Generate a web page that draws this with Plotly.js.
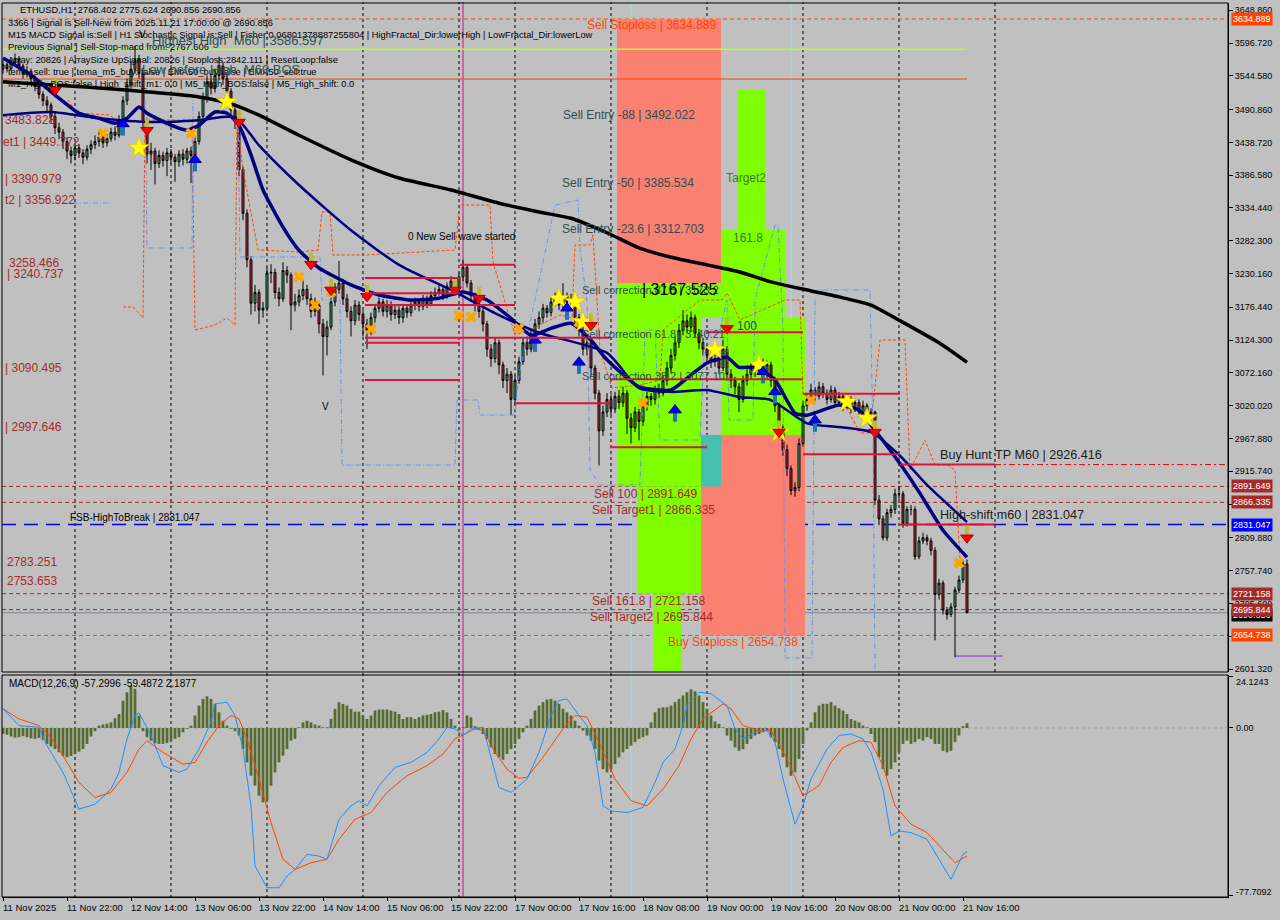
<!DOCTYPE html>
<html>
<head>
<meta charset="utf-8">
<script src="https://cdn.plot.ly/plotly-3.0.1.min.js"></script>
<style>
  html, body { margin: 0; padding: 0; background: #c0c0c0; }
  #chart { width: 1280px; height: 920px; }
</style>
</head>
<body>
<div id="chart"></div>
<script>
// ETHUSD H1 — hourly candles, bar 0 = 11 Nov 2025 06:00, bar 241 = 21 Nov 17:00
const firstOpen = 3555;
const closePrice = [
  3562,3556,3565,3572,3560,3548,3552,3540,3528,3515,3505,
  3498,3480,3462,3455,
  3440,3425,3418,3430,3422,3415,3428,3435,
  3440,3448,3438,3445,3455,3450,
  3475,3505,3530,3555,3570,3548,
  3470,3420,
  3425,3405,3418,3410,3422,3415,3408,3420,3412,3425,3418,
  3440,3480,3510,3535,3525,
  3545,3560,3540,3520,3490,3475,
  3395,
  3326,3252,3183,3200,3172,3175,3231,3232,3200,3190,3235,3228,3180,3185,3195,
  3205,3190,3170,3180,3150,3130,3145,3185,3205,3215,3190,3170,3155,3180,3165,3150,
  3140,3160,3175,3185,3170,3180,3165,3172,3160,3175,3168,3180,3185,3178,3190,3182,3195,3200,3205,3195,3210,3218,3205,
  3225,3240,3215,3195,3180,3170,3150,3110,3095,3120,3085,3060,3070,3030,
  3060,3090,3120,3110,3135,3150,3160,3175,3168,3185,3190,3180,3195,3185,3190,
  3160,3140,3110,3120,3080,3040,2980,3010,3030,3015,3035,3025,3040,3000,2985,3010,2995,3020,3035,3030,3045,3040,
  3060,3080,3100,3120,3140,3155,3145,3160,3135,3120,3110,3100,3090,3095,3080,
  3110,3070,3060,3050,3030,3060,3070,3080,3075,3090,3070,3085,3060,3020,2985,2950,2920,2885,2890,2960,
  3020,3030,3045,3035,3050,3040,3030,3045,3025,3035,3020,3030,3015,3025,3010,3020,3005,3010,
  2870,2840,2810,2850,2855,2880,2880,2833,2855,2855,2780,2805,2810,2805,2790,2720,2738,2695,2688,2700,2727,2743,2768.402,2690.856
];
const highPrice = [
  3570,3568,3574,3580,3576,3564,3560,3556,3545,3532,3520,
  3512,3502,3486,3470,
  3460,3446,3432,3438,3436,3428,3434,3442,
  3450,3455,3452,3452,3462,3464,
  3482,3512,3540,3568,3592,3578,
  3552,3478,
  3438,3430,3426,3424,3430,3428,3420,3426,3428,3430,3432,
  3448,3488,3518,3545,3548,
  3556,3575,3566,3548,3525,3500,
  3480,
  3400,3332,3258,3212,3205,3185,3240,3245,3238,3208,3248,3242,3232,3198,3205,
  3220,3212,3198,3192,3185,3158,3155,3192,3215,3250,3222,3198,3178,3188,3186,3172,
  3158,3168,3182,3192,3190,3188,3186,3180,3178,3182,3180,3186,3192,3190,3196,3195,3202,3208,3214,3210,3216,3226,3222,
  3232,3252,3244,3220,3200,3186,3175,3155,3118,3128,3125,3090,3080,3075,
  3068,3098,3128,3130,3142,3158,3170,3182,3180,3192,3200,3195,3215,3200,3198,
  3194,3166,3145,3130,3125,3085,3045,3020,3040,3038,3042,3045,3050,3045,3008,3018,3015,3028,3042,3040,3052,3055,
  3068,3090,3110,3130,3150,3172,3165,3170,3165,3142,3128,3116,3108,3102,3100,
  3125,3115,3078,3066,3056,3068,3078,3088,3086,3098,3095,3092,3090,3066,3025,2990,2958,2925,2898,2968,
  3028,3040,3055,3050,3058,3056,3046,3052,3050,3042,3040,3038,3035,3032,3030,3028,3024,3016,
  3012,2878,2845,2856,2862,2888,2892,2884,2860,2862,2860,2812,2818,2815,2810,2795,2745,2742,2700,2706,2732,2750,2774,2775.624
];
const lowPrice = [
  3548,3550,3552,3560,3554,3540,3542,3532,3520,3508,3496,
  3488,3470,3452,3444,
  3428,3412,3405,3410,3414,3404,3410,3420,
  3428,3432,3430,3432,3440,3442,
  3446,3470,3498,3524,3548,3540,
  3460,3405,
  3395,3372,3398,3400,3385,3405,3376,3400,3402,3405,3374,
  3410,3435,3474,3502,3515,
  3518,3538,3530,3510,3480,3460,
  3385,
  3315,3240,3165,3170,3150,3160,3170,3215,3190,3178,3185,3215,3140,3170,3178,
  3188,3180,3160,3162,3135,3068,3100,3140,3178,3198,3180,3160,3130,3148,3155,3130,
  3110,3132,3152,3168,3162,3160,3155,3158,3150,3152,3160,3162,3172,3170,3172,3175,3178,3188,3195,3188,3190,3204,3198,
  3200,3218,3208,3185,3170,3160,3138,3098,3082,3088,3070,3048,3040,3005,
  3022,3055,3085,3100,3105,3128,3142,3152,3160,3162,3178,3172,3175,3175,3178,
  3150,3130,3100,3100,3068,3030,2925,2972,3002,3005,3008,3015,3018,2975,2960,2978,2965,2988,3012,3020,3022,3032,
  3035,3052,3072,3092,3112,3132,3135,3138,3128,3110,3100,3090,3080,3082,3070,
  3075,3060,3048,3038,3010,3025,3052,3062,3066,3070,3062,3064,3050,3010,2975,2940,2908,2878,2875,2884,
  2955,3012,3025,3028,3030,3032,3022,3025,3018,3020,3012,3015,3008,3010,3002,3005,2998,2998,
  2862,2830,2806,2805,2842,2848,2872,2826,2828,2846,2775,2776,2800,2798,2782,2647,2712,2688,2680,2684,2620,2722,2738,2690.856
];

// time axis labels (bar index of each label)
const timeLabelBars = [0,16,32,48,64,80,96,112,128,144,160,176,192,208,224,240];
const timeLabels = ['11 Nov 2025','11 Nov 22:00','12 Nov 14:00','13 Nov 06:00','13 Nov 22:00','14 Nov 14:00',
  '15 Nov 06:00','15 Nov 22:00','17 Nov 00:00','17 Nov 16:00','18 Nov 08:00','19 Nov 00:00',
  '19 Nov 16:00','20 Nov 08:00','21 Nov 00:00','21 Nov 16:00'];
// bars that open a new day (vertical separators)
const dayStartBars = [18,42,66,90,114,128,152,176,200,224];
const futureDayBars = [248];

// price scale on the right
const priceTicks = [3648.860,3596.720,3544.580,3490.860,3438.720,3386.580,3334.440,3282.300,3230.160,
  3176.440,3124.300,3072.160,3020.020,2967.880,2915.740,2863.600,2809.880,2757.740,2705.600,2653.460,2601.320];

// slow trend average (black)
const trendBars   = [0,24,49,57,64,74,87,99,112,124,134,142,151,159,167,176,184,192,201,209,217,224,234,241];
const trendPrices = [3535,3525,3511,3500,3482,3450,3411,3382,3363,3342,3328,3318,3295,3271,3256,3244,3233,3217,3204,3193,3180,3156,3120,3089];

// fast average (navy, thick)
const fastBars   = [0,7,13,19,24,28,31,34,36,42,46,49,53,56,59,62,65,70,74,79,87,94,102,109,115,121,127,132,137,142,147,151,159,167,172,176,181,184,188,193,198,201,209,214,218,224,229,235,241];
const fastPrices = [3573,3546,3514,3485,3477,3469,3477,3495,3485,3466,3458,3466,3487,3485,3466,3419,3363,3304,3267,3239,3212,3196,3188,3191,3201,3188,3159,3132,3143,3151,3124,3093,3050,3045,3069,3088,3097,3081,3081,3061,3008,3005,3021,3013,2981,2930,2883,2822,2779];

// medium average (navy)
const midBars   = [0,12,24,37,49,58,64,74,87,99,112,124,134,151,159,167,176,184,192,201,209,217,224,231,241];
const midPrices = [3482,3487,3477,3471,3474,3479,3434,3371,3299,3244,3204,3164,3136,3104,3048,3042,3045,3034,3029,2992,2986,2978,2942,2894,2835];

// upper channel (orange dashed)
const upperBandBars = [16.25,18.5,26.75,28,null,30,32.5,35,35.5,47.25,48,53,56,58,58.5,60,63.75,74.25,78.75,79.75,81.75,82.5,90.5,113,114.25,121.75,122.5,128,131.75,139.25,142.25,143,146.75,147.5,149.25,152.25,159.25,164.25,165,174.25,179.75,181,184.25,195.5,199.25,200,209.25,214.25,216.75,219.25,225.5,226.75,230.5,233,236.25,238,239.25];
const upperBandPrices = [3506.1,3485.4,3482.3,3474.3,null,3177,3177,3159.5,3474.3,3474.3,3140.4,3148.3,3159.5,3148.3,3474.3,3394.8,3267.6,3264.4,3267.6,3328.0,3328.0,3259.6,3259.6,3267.6,3339.1,3339.1,3248.5,3132.4,3140.4,3164.3,3159.5,3275.5,3275.5,3291.4,3108.6,3048.2,3052.9,3060.9,3140.4,3188.1,3188.1,3199.2,3156.3,3188.1,3188.1,3037.1,3037.1,2976.6,2976.6,3124.5,3124.5,2917.8,2965.5,2925.7,2925.7,2917.8,2774.7];

// lower channel (blue dash-dot)
const lowerBandBars = [12.5,27.25,null,35.5,36,47.25,47.5,null,58.75,59.25,74.25,79.25,79.75,84.25,84.75,113,113.5,118.75,119.25,128,128.75,138,143.75,144.25,146,146.75,149.25,159.25,160.5,163,164.25,174.25,175.5,179.25,181,181.5,187.5,188,193,193.75,195,195.5,202.25,203,204.25,216.75,217.5,218,224.25];
const lowerBandPrices = [3342.3,3342.3,null,3506.1,3270.8,3270.8,3506.1,null,3479.1,3256.5,3256.5,3256.5,3188.1,3188.1,2925.7,2925.7,3029.1,3029.1,3005.2,3005.2,3060.9,3339.1,3347.1,3267.6,3188.1,2917.8,2894.0,2894.0,3140.4,3140.4,2965.5,2965.5,3140.4,3140.4,3188.1,2997.3,2997.3,3188.1,3307.3,3307.3,3140.4,2618.9,2618.9,3188.1,3204.0,3204.0,2981.4,2596.6,2596.6];

// signal markers
const sellArrowBars   = [13,36,59,77,82,91,113,119,147,181,194,218,241];
const sellArrowPrices = [3522,3458,3471,3245,3204,3194,3204,3191,3148,3143,2978,2978,2810];
const buyArrowBars    = [30,48,133,141,144,168,190,193,203];
const buyArrowPrices  = [3468,3411,3124,3175,3089,3013,3074,3042,2997];
const starBars   = [34,56,139,143,145,178,189,194,211,216];
const starPrices = [3430,3503,3190,3185,3153,3109,3085,2978,3026,3000];
const crossBars   = [25,47,74,78,82,92,114,117,129,144,160,202,239];
const crossPrices = [3453,3453,3225,3180,3201,3142,3163,3161,3143,3153,3024,3029,2770];

// MACD(12,26,9)
const macdBars   = [0,4,9,11,15,19,23,27,29,31,33,34,37,40,44,46,49,52,53,56,58,60,62,63,66,69,71,73,76,79,81,84,87,89,91,94,98,102,106,109,111,113,115,117,120,121,123,124,127,131,134,137,139,141,144,146,148,150,152,156,160,163,165,168,170,171,174,177,181,183,185,188,191,193,195,198,200,202,206,209,212,215,217,220,222,224,227,231,234,237,240,241];
const macdValues = [8.9,1.1,0.3,-8.2,-20.6,-37.7,-35.4,-28.4,-20.6,-5.1,5.8,7.0,-3.5,-17.5,-20.6,-19.1,-9.8,2.7,11.2,12.0,5.8,-9.8,-36.2,-64.1,-74.2,-74.2,-68.8,-65.7,-58.7,-59.5,-61.0,-42.4,-36.2,-33.8,-36.2,-26.8,-18.3,-16.0,-11.3,-5.1,0.3,-0.4,-3.5,-0.4,0.3,-6.6,-20.6,-27.6,-29.9,-23.7,-11.3,5.8,12.7,13.5,5.8,1.1,-11.3,-36.2,-38.5,-39.3,-36.9,-25.3,-16.0,-9.8,1.1,10.4,16.6,15.9,10.4,-0.4,-5.1,-2.0,-1.2,-6.6,-23.7,-44.7,-36.2,-23.7,-9.8,-3.5,-2.8,-5.1,-11.3,-28.4,-50.2,-47.8,-48.6,-51.7,-61.0,-70.3,-58.7,-57.2996];
const signalBars   = [0,4,9,12,15,19,23,27,31,34,36,40,45,48,51,54,57,59,61,64,67,70,73,77,81,84,88,92,96,101,106,110,113,118,120,123,126,129,131,135,140,143,146,149,153,157,161,165,169,172,175,180,182,185,189,192,196,200,204,207,210,214,217,220,223,227,231,234,238,241];
const signalValues = [8.9,4.2,1.1,-4.3,-12.9,-25.3,-32.3,-29.9,-20.6,-9.8,-5.9,-11.3,-16.8,-16.0,-6.6,1.1,5.8,4.2,-5.1,-23.7,-43.9,-61.0,-65.7,-62.6,-61.0,-51.7,-42.4,-39.3,-29.9,-22.2,-17.5,-12.1,-5.1,-0.4,-1.2,-11.3,-19.1,-23.4,-22.9,-13.6,-0.4,5.8,5.0,-6.6,-23.7,-33.8,-36.2,-28.4,-17.5,-5.1,4.2,11.2,8.9,1.1,-1.2,-1.2,-14.4,-31.5,-26.8,-16.0,-9.0,-5.9,-6.6,-17.5,-36.2,-44.7,-48.6,-54.8,-62.6,-59.4872];
const macdHistogram = [
  -2.8,-3.2,-4.0,-4.5,-4.3,-3.8,-4.3,-4.8,-5.1,-4.6,-5.5,
  -7.4,-8.6,-9.8,-11.3,-12.9,-13.6,-13.0,-12.1,-11.0,-9.8,-7.4,-4.0,-1.5,
  1.1,1.6,2.0,2.6,4.5,6.5,12.7,16.6,19.7,18.2,5.8,
  -1.5,-4.3,-5.9,-7.1,-7.4,-7.4,-7.0,-5.9,-5.0,-4.3,-2.0,-0.4,
  1.1,5.8,10.4,13.5,14.7,13.5,11.2,7.3,3.4,1.1,-0.4,
  -1.5,-3.5,-9.8,-16.0,-22.2,-26.8,-31.5,-34.6,-33.8,-26.8,-20.6,-16.0,-12.9,-9.8,-5.9,-5.1,
  0.3,2.6,3.4,2.6,1.6,1.1,0.3,0.3,
  4.2,8.9,12.0,11.2,10.4,8.9,7.6,7.6,5.8,4.2,5.8,8.1,8.6,8.6,8.6,8.1,7.6,6.5,
  4.2,5.0,5.0,4.2,5.0,5.8,6.1,6.5,7.3,7.6,8.3,7.3,4.2,1.1,
  -1.2,0.3,5.8,5.0,0.8,-0.4,
  -2.8,-5.1,-9.0,-12.1,-13.6,-14.7,-12.1,-9.8,-7.4,-5.1,-2.0,
  1.1,4.2,8.1,10.4,12.0,13.2,13.5,12.7,11.2,8.9,7.3,5.8,3.4,1.1,
  -1.2,-3.5,-5.9,-9.8,-15.2,-19.1,-20.6,-19.1,-16.8,-13.6,-11.3,-9.8,-8.2,-6.6,-5.1,-4.3,-3.5,
  2.6,7.3,9.2,9.6,9.6,10.4,12.0,13.5,15.1,16.6,17.9,17.0,15.1,12.0,8.9,5.8,3.0,1.9,
  0.3,-3.5,-5.9,-9.0,-10.6,-9.8,-7.4,-5.1,-3.5,-2.8,-2.0,-1.2,
  -4.3,-6.6,-9.8,-13.6,-18.3,-22.2,-20.6,-14.4,-7.4,-1.2,
  2.6,7.3,10.4,11.2,11.2,12.0,10.4,9.2,8.1,6.5,4.2,3.4,2.6,1.1,0.3,
  -2.8,-6.6,-13.6,-19.1,-22.2,-19.1,-16.0,-11.3,-7.4,
  -5.9,-7.4,-6.6,-5.1,-5.9,-4.3,-5.1,-7.4,-7.4,-10.6,-11.3,-10.6,-6.6,-3.5,
  0.8,2.1877
];

// trade levels
const sellStoploss = 3634.889, highestHighM60 = 3586.597, lowBeforeHighM60 = 3539.4;
const buyHuntTP = 2926.416, sell100 = 2891.649, sellTarget1 = 2866.335, highShiftM60 = 2831.047;
const sell1618 = 2721.158, sellTarget2 = 2695.844, bidPrice = 2690.856, buyStoploss = 2654.738;

// zone boxes: [fromBar, toBar, lowPrice, highPrice]
const salmonZones = [[153.5,179.5,3215.1,3634.889],[174.5,200.5,2654.738,2973.4]];
const limeZones = [[153.5,179.5,3159.5,3215.1],[153.5,174.5,2891.649,3159.5],[158.5,174.5,2721.158,2891.649],
  [162.5,169.5,2560,2721.158],[183.5,190.5,3299.4,3522.0],[179.5,195.5,3159.5,3299.4],[179.5,200.5,2973.4,3159.5]];
const tealZones = [[174.5,179.5,2891.649,2973.4]];

// correction / structure segments: [fromBar, toBar, price]
const structureSegments = [[90.5,114.25,3223],[90.5,114.25,3199],[90.5,128,3180],[114.25,128,3244],[90.5,151.75,3128],
  [90.5,114.25,3120],[90.5,114.25,3061],[128,151.75,3024],[151.75,176,2954],[176,200,3137],[151.75,200,3062],
  [200,224.25,3039],[200,224.25,2943],[224.25,248,2926.416],[224.25,248,2831.047]];

// marked vertical bars
const magentaBars = [115];
const lightBlueBars = [157,197];

// ---------- layout geometry ----------
const W = 1280, H = 920;
const M = {l: 2, r: 52, t: 2, b: 22};
const plotW = W - M.l - M.r, plotH = H - M.t - M.b;
const rowToPaper = row => (H - M.b - row) / plotH;
const colToPaper = col => (col - M.l) / plotW;
const mainDomain = [rowToPaper(672), rowToPaper(3)];
const macdDomain = [rowToPaper(897), rowToPaper(675)];
const priceRange = [2596.61, 3660.32];
const pricePerPixel = (priceRange[1] - priceRange[0]) / (669);

const bars = closePrice.map((_, k) => k);
// each hourly candle opens at the previous close
const openPrice = closePrice.map((c, k) => (k === 0 ? firstOpen : closePrice[k - 1]));

const traces = [];

traces.push({
  type: 'scatter', mode: 'lines', x: upperBandBars, y: upperBandPrices, connectgaps: false,
  line: {color: '#ff4500', width: 1, dash: '3px,2px'}, hoverinfo: 'skip'
});
traces.push({
  type: 'scatter', mode: 'lines', x: lowerBandBars, y: lowerBandPrices, connectgaps: false,
  line: {color: '#6495ed', width: 1, dash: '5px,2px,1px,2px'}, hoverinfo: 'skip'
});

traces.push({
  type: 'candlestick', x: bars, open: openPrice, high: highPrice, low: lowPrice, close: closePrice,
  increasing: {line: {color: '#000000', width: 1}, fillcolor: '#3cb371'},
  decreasing: {line: {color: '#000000', width: 1}, fillcolor: '#c8283c'},
  whiskerwidth: 0, hoverinfo: 'skip', xaxis: 'x', yaxis: 'y'
});

traces.push({type: 'scatter', mode: 'lines', x: trendBars, y: trendPrices, line: {color: '#000000', width: 3.5, shape: 'spline', smoothing: 0.6}, hoverinfo: 'skip'});
traces.push({type: 'scatter', mode: 'lines', x: midBars, y: midPrices, line: {color: '#000080', width: 2.5, shape: 'spline', smoothing: 0.6}, hoverinfo: 'skip'});
traces.push({type: 'scatter', mode: 'lines', x: fastBars, y: fastPrices, line: {color: '#000080', width: 3.5, shape: 'spline', smoothing: 0.5}, hoverinfo: 'skip'});

traces.push({type: 'scatter', mode: 'markers', x: crossBars, y: crossPrices,
  marker: {symbol: 'x', size: 10, color: '#ffa500', line: {width: 0}}, hoverinfo: 'skip'});
traces.push({type: 'scatter', mode: 'markers', x: starBars, y: starPrices,
  marker: {symbol: 'star', size: 16, color: '#ffff00', line: {width: 0.5, color: '#e0b000'}}, hoverinfo: 'skip'});

// arrows: a head plus a short shaft behind it
const shaftShift = 6 * pricePerPixel;
traces.push({type: 'scatter', mode: 'markers', x: sellArrowBars, y: sellArrowPrices.map(p => p + shaftShift),
  marker: {symbol: 'line-ns-open', size: 8, line: {width: 4, color: '#ff0000'}}, hoverinfo: 'skip'});
traces.push({type: 'scatter', mode: 'markers', x: sellArrowBars, y: sellArrowPrices,
  marker: {symbol: 'triangle-down', size: 11, color: '#ff0000', line: {width: 1, color: '#b00000'}}, hoverinfo: 'skip'});
traces.push({type: 'scatter', mode: 'markers', x: buyArrowBars, y: buyArrowPrices.map(p => p - shaftShift),
  marker: {symbol: 'line-ns-open', size: 8, line: {width: 4, color: '#0000ff'}}, hoverinfo: 'skip'});
traces.push({type: 'scatter', mode: 'markers', x: buyArrowBars, y: buyArrowPrices,
  marker: {symbol: 'triangle-up', size: 11, color: '#0000ff', line: {width: 1, color: '#00008b'}}, hoverinfo: 'skip'});

// MACD pane
traces.push({type: 'bar', x: bars, y: macdHistogram, xaxis: 'x', yaxis: 'y2', width: 0.7,
  marker: {color: '#556b2f', line: {width: 0}}, hoverinfo: 'skip'});
traces.push({type: 'scatter', mode: 'lines', x: signalBars, y: signalValues, xaxis: 'x', yaxis: 'y2',
  line: {color: '#ff4500', width: 1}, hoverinfo: 'skip'});
traces.push({type: 'scatter', mode: 'lines', x: macdBars, y: macdValues, xaxis: 'x', yaxis: 'y2',
  line: {color: '#1e90ff', width: 1}, hoverinfo: 'skip'});

// ---------- shapes ----------
const shapes = [];
const hLine = (price, color, dash, width, x0, x1, layer) => ({
  type: 'line', xref: x0 === undefined ? 'paper' : 'x', yref: 'y',
  x0: x0 === undefined ? 0 : x0, x1: x1 === undefined ? 1 : x1, y0: price, y1: price,
  line: {color, width: width || 1, dash: dash || 'solid'}, layer: layer || 'below'
});

dayStartBars.forEach(b => shapes.push({type: 'line', xref: 'x', yref: 'paper', x0: b, x1: b, y0: 0, y1: 1,
  line: {color: '#000', width: 1, dash: '3px,3px'}, layer: 'below'}));
futureDayBars.forEach(b => shapes.push({type: 'line', xref: 'x', yref: 'paper', x0: b, x1: b, y0: mainDomain[0], y1: mainDomain[1],
  line: {color: '#000', width: 1, dash: '3px,3px'}, layer: 'below'}));

salmonZones.forEach(z => shapes.push({type: 'rect', xref: 'x', yref: 'y', x0: z[0], x1: z[1], y0: z[2], y1: z[3],
  fillcolor: '#fa8072', line: {width: 0}, layer: 'below'}));
limeZones.forEach(z => shapes.push({type: 'rect', xref: 'x', yref: 'y', x0: z[0], x1: z[1], y0: z[2], y1: z[3],
  fillcolor: '#7fff00', line: {width: 0}, layer: 'below'}));
tealZones.forEach(z => shapes.push({type: 'rect', xref: 'x', yref: 'y', x0: z[0], x1: z[1], y0: z[2], y1: z[3],
  fillcolor: '#45bfb0', line: {width: 0}, layer: 'below'}));

magentaBars.forEach(b => shapes.push({type: 'line', xref: 'x', yref: 'paper', x0: b, x1: b, y0: 0, y1: 1,
  line: {color: '#c71585', width: 1}, layer: 'below'}));
lightBlueBars.forEach(b => shapes.push({type: 'line', xref: 'x', yref: 'paper', x0: b, x1: b, y0: 0, y1: 1,
  line: {color: '#add8e6', width: 1}, layer: 'below'}));

shapes.push(hLine(sellStoploss, '#ff4500', '4px,3px'));
shapes.push(hLine(highestHighM60, '#adff2f', 'solid', 1.5, -0.25, 241));
shapes.push(hLine(lowBeforeHighM60, '#ff4500', 'solid', 1, -0.25, 241));
shapes.push(hLine(buyHuntTP, '#ff0000', '6px,3px,2px,3px', 1, 248, 306.25));
shapes.push(hLine(sell100, '#a52a2a', '4px,3px'));
shapes.push(hLine(sellTarget1, '#a52a2a', '4px,3px'));
shapes.push(hLine(highShiftM60, '#0000ff', '14px,8px', 1.5));
shapes.push(hLine(sell1618, '#a52a2a', '4px,3px'));
shapes.push(hLine(sellTarget2, '#a52a2a', '4px,3px'));
shapes.push(hLine(bidPrice, '#778899', 'solid', 1));
shapes.push(hLine(buyStoploss, '#ff4500', '4px,3px'));
shapes.push(hLine(2622, '#8a2be2', 'solid', 1, 238, 250));
structureSegments.forEach(s => shapes.push(hLine(s[2], '#dc143c', 'solid', 2, s[0], s[1], 'above')));

// pane frames
shapes.push({type: 'rect', xref: 'paper', yref: 'paper', x0: 0, x1: 1, y0: mainDomain[0], y1: mainDomain[1],
  line: {color: '#000', width: 1}, fillcolor: 'rgba(0,0,0,0)', layer: 'above'});
shapes.push({type: 'rect', xref: 'paper', yref: 'paper', x0: 0, x1: 1, y0: macdDomain[0], y1: macdDomain[1],
  line: {color: '#000', width: 1}, fillcolor: 'rgba(0,0,0,0)', layer: 'above'});
shapes.push({type: 'line', xref: 'paper', yref: 'y2', x0: 0, x1: 1, y0: 0, y1: 0, line: {color: '#808080', width: 0.5, dash: 'dot'}, layer: 'below'});

// ---------- annotations ----------
const annotations = [];
const FONT = 'Liberation Sans, Arial, sans-serif';
const pxNote = (col, row, text, size, color, extra) => annotations.push(Object.assign({
  xref: 'paper', yref: 'paper', x: colToPaper(col), y: rowToPaper(row), xanchor: 'left', yanchor: 'middle',
  text, showarrow: false, font: {family: FONT, size, color}
}, extra || {}));
const dataNote = (bar, price, text, size, color, extra) => annotations.push(Object.assign({
  xref: 'x', yref: 'y', x: bar, y: price, xanchor: 'left', yanchor: 'middle',
  text, showarrow: false, font: {family: FONT, size, color}
}, extra || {}));

// time labels
timeLabelBars.forEach((b, k) => annotations.push({
  xref: 'x', yref: 'paper', x: b, y: 0, xanchor: 'left', yanchor: 'top', xshift: -2, yshift: -2,
  text: timeLabels[k], showarrow: false, font: {family: FONT, size: 9.5, color: '#000'}
}));

// info block
const INFO = 9.3;
pxNote(18, 10, 'ETHUSD,H1  2768.402 2775.624 2690.856 2690.856', INFO, '#000');
pxNote(6, 23, '3366 | Signal is Sell-New from 2025.11.21 17:00:00 @ 2690.856', INFO, '#000');
pxNote(6, 35, 'M15 MACD Signal is:Sell | H1 Stochastic Signal is:Sell | Fisher:0.06801378887255804 | HighFractal_Dir:lowerHigh | LowFractal_Dir:lowerLow', INFO, '#000');
pxNote(6, 47, 'Previous Signal | Sell-Stop-macd from: 2767.606', INFO, '#000');
pxNote(6, 60, 'Array: 20826 | ArraySize UpSignal: 20826 | Stoploss:2842.111 | ResetLoop:false', INFO, '#000');
pxNote(6, 72, 'tema_sell: true | tema_m5_buy: false | EMA50_buy:false | EMA50_sell:true', INFO, '#000');
pxNote(6, 84, 'M1_High_BOS:false | High_shift_m1: 0.0 | M5_High_BOS:false | M5_High_shift: 0.0', INFO, '#000');
pxNote(150, 40, 'Highest High  M60 | 3586.597', 13, '#2f4f4f');
pxNote(140, 70, 'Low before High  M60 BOS', 13, '#2f4f4f');
pxNote(7, 683, 'MACD(12,26,9) -57.2996 -59.4872 2.1877', 10, '#000');

// level captions
dataNote(145.5, 3625.3, 'Sell Stoploss | 3634.889', 12, '#ff4500');
dataNote(139.5, 3482.2, 'Sell Entry -88 | 3492.022', 12, '#2f4f4f');
dataNote(139.25, 3374.1, 'Sell Entry -50 | 3385.534', 12, '#2f4f4f');
dataNote(139.25, 3301.0, 'Sell Entry -23.6 | 3312.703', 12, '#2f4f4f');
dataNote(100.75, 3288.3, '0 New Sell wave started', 10, '#000');
dataNote(180.25, 3382.1, 'Target2', 12, '#3a7a3a');
dataNote(182, 3286.7, '161.8', 12, '#3a7a3a');
dataNote(144.25, 3204, 'Sell correction 87.5 | 3173.2', 11, '#2f4f4f');
dataNote(159.25, 3204, '| 3167.525', 16, '#000');
dataNote(144.25, 3134, 'Sell correction 61.8 | 3140.21', 11, '#2f4f4f');
dataNote(144.25, 3067.3, 'Sell correction 38.2 | 3077.10', 11, '#2f4f4f');
dataNote(183, 3146.8, '100', 12, '#2f4f4f');
dataNote(147.25, 2879.6, 'Sell 100 | 2891.649', 12, '#a52a2a');
dataNote(146.75, 2854.2, 'Sell Target1 | 2866.335', 12, '#a52a2a');
dataNote(146.75, 2709.5, 'Sell 161.8 | 2721.158', 12, '#a52a2a');
dataNote(146.25, 2684.1, 'Sell Target2 | 2695.844', 12, '#a52a2a');
dataNote(165.75, 2644.3, 'Buy Stoploss | 2654.738', 12, '#ff4500');
dataNote(233.75, 2941.6, 'Buy Hunt TP M60 | 2926.416', 12.6, '#1a1a1a');
dataNote(233.75, 2846.2, 'High-shift m60 | 2831.047', 12.6, '#1a1a1a');
dataNote(16.25, 2841.5, 'FSB-HighToBreak | 2831.047', 10, '#000');
dataNote(79.25, 3018, 'V', 10, '#000');
dataNote(33.5, 3610, 'V', 10, '#000');

// captions of older levels running off the left edge
const leftCaptions = [['3483.828',0,3474,0],['et1 | 3449.772',-0.2,3439.3,-1],['| 3390.979',0,3380.5,0],['t2 | 3356.922',0,3347.1,0],
  ['3258.466',1,3247,0],['| 3240.737',0.5,3229.4,0],['| 3090.495',0,3080,0],['| 2997.646',0,2986,0],['2783.251',0.5,2771.5,0],['2753.653',0.5,2741.3,0]];
leftCaptions.forEach(c => dataNote(c[1], c[2], c[0], 12, '#a52a2a', {xshift: c[3]}));

// price tags on the right scale
const tag = (price, text, bg) => annotations.push({
  xref: 'paper', yref: 'y', x: 1, y: price, xanchor: 'left', yanchor: 'middle', xshift: 3,
  text, showarrow: false, bgcolor: bg, borderpad: 1, font: {family: FONT, size: 9, color: '#ffffff'}
});
tag(sellStoploss, '3634.889', '#ff4500');
tag(sell100, '2891.649', '#a52a2a');
tag(sellTarget1, '2866.335', '#a52a2a');
tag(highShiftM60, '2831.047', '#0000ff');
tag(sell1618, '2721.158', '#a52a2a');
tag(bidPrice - 4, '2690.856', '#000000');
tag(sellTarget2, '2695.844', '#a52a2a');
tag(buyStoploss, '2654.738', '#ff4500');

// MACD scale labels
[[24.1243,'24.1243',-6],[0,'0.00',0],[-77.7092,'-77.7092',3]].forEach(m => annotations.push({
  xref: 'paper', yref: 'y2', x: 1, y: m[0], xanchor: 'left', yanchor: 'middle', xshift: 6, yshift: m[2],
  text: m[1], showarrow: false, font: {family: FONT, size: 9, color: '#000'}
}));

const layout = {
  width: W, height: H, margin: M,
  paper_bgcolor: '#c0c0c0', plot_bgcolor: '#c0c0c0',
  showlegend: false, hovermode: false, dragmode: false,
  font: {family: FONT, size: 9, color: '#000'},
  xaxis: {
    range: [-0.25, 306.25], anchor: 'y2', showgrid: false, zeroline: false,
    showline: true, linecolor: '#000', linewidth: 1, mirror: false,
    ticks: 'outside', ticklen: 3, tickcolor: '#000', tickvals: timeLabelBars, showticklabels: false,
    rangeslider: {visible: false}, fixedrange: true
  },
  yaxis: {
    domain: mainDomain, range: priceRange, side: 'right', anchor: 'x',
    showgrid: false, zeroline: false, showline: true, linecolor: '#000', linewidth: 1,
    ticks: 'outside', ticklen: 4, tickcolor: '#000',
    tickvals: priceTicks, ticktext: priceTicks.map(v => v.toFixed(3)),
    tickfont: {family: FONT, size: 9, color: '#000'}, fixedrange: true
  },
  yaxis2: {
    domain: macdDomain, range: [-78.5, 24.6], side: 'right', anchor: 'x',
    showgrid: false, zeroline: false, showline: true, linecolor: '#000', linewidth: 1,
    ticks: 'outside', ticklen: 4, tickcolor: '#000', tickvals: [24.1243, 0, -77.7092], showticklabels: false,
    fixedrange: true
  },
  bargap: 0.25,
  shapes, annotations
};

Plotly.newPlot('chart', traces, layout, {staticPlot: true, displayModeBar: false});
</script>
</body>
</html>
